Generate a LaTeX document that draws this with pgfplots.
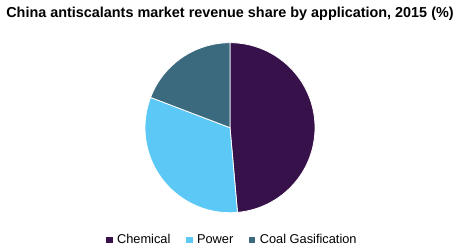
\documentclass[border=0pt]{standalone}
\usepackage{pgfplots}
\pgfplotsset{compat=1.18}
\usepackage{fontspec}
\setmainfont{Liberation Sans}
\definecolor{chem}{HTML}{37114A}
\definecolor{power}{HTML}{5BC8F5}
\definecolor{coal}{HTML}{3B6A7F}
% shares (%)
\def\vChem{48.6}
\def\vPower{32.2}
\def\vCoal{19.2}
\begin{document}
\begin{tikzpicture}
\useasboundingbox (0,0) rectangle (462bp,249bp);
\pgfmathsetmacro{\aA}{90}
\pgfmathsetmacro{\aB}{90-3.6*\vChem}
\pgfmathsetmacro{\aC}{\aB-3.6*\vPower}
\pgfmathsetmacro{\aD}{\aC-3.6*\vCoal}
\begin{axis}[
  at={(230bp,121.3bp)}, anchor=origin,
  scale only axis, width=170bp, height=170bp,
  xmin=-1, xmax=1, ymin=-1, ymax=1,
  hide axis,
  title={China antiscalants market revenue share by application, 2015 (\%)},
  title style={at={(axis description cs:0.5,1.135)}, anchor=center, inner sep=0pt,
    font=\bfseries\fontsize{14.4bp}{16bp}\selectfont},
  legend columns=-1,
  legend style={at={(axis description cs:0.515,-0.16)}, anchor=center, draw=none,
    fill=none, font=\fontsize{12.8bp}{15bp}\selectfont,
    /tikz/every even column/.append style={column sep=14bp},
    /tikz/every odd column/.append style={column sep=3bp},
    inner sep=0pt},
  legend image code/.code={\fill[#1] (0bp,-2.6bp) rectangle (5.2bp,2.6bp);},
]
\fill[chem, draw=white, line width=0.8bp] (axis cs:0,0) -- ++(\aA:85bp) arc[start angle=\aA, end angle=\aB, radius=85bp] -- cycle;
\fill[power, draw=white, line width=0.8bp] (axis cs:0,0) -- ++(\aB:85bp) arc[start angle=\aB, end angle=\aC, radius=85bp] -- cycle;
\fill[coal, draw=white, line width=0.8bp] (axis cs:0,0) -- ++(\aC:85bp) arc[start angle=\aC, end angle=\aD, radius=85bp] -- cycle;
\addlegendimage{chem}
\addlegendentry{Chemical}
\addlegendimage{power}
\addlegendentry{Power}
\addlegendimage{coal}
\addlegendentry{Coal Gasification}
\end{axis}
\end{tikzpicture}
\end{document}
